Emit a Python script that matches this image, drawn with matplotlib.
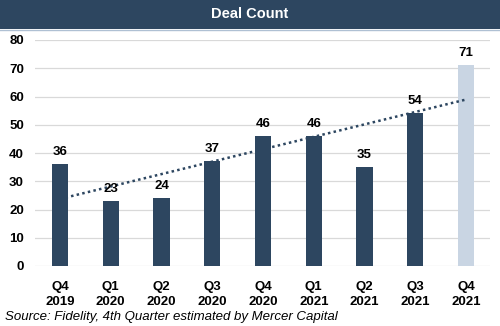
import matplotlib
matplotlib.use("Agg")
import matplotlib.pyplot as plt
import numpy as np

categories = ["Q4\n2019", "Q1\n2020", "Q2\n2020", "Q3\n2020", "Q4\n2020",
              "Q1\n2021", "Q2\n2021", "Q3\n2021", "Q4\n2021"]
deal_count = [36, 23, 24, 37, 46, 46, 35, 54, 71]
estimated = [False, False, False, False, False, False, False, False, True]
y_ticks = [0, 10, 20, 30, 40, 50, 60, 70, 80]
title = "Deal Count"
source = "Source: Fidelity, 4th Quarter estimated by Mercer Capital"

DARK = "#2D4660"
LIGHT = "#C9D5E3"

plt.rcParams['font.family'] = ['Liberation Sans', 'DejaVu Sans']

fig = plt.figure(figsize=(5.0, 3.26), dpi=100)
fig.patch.set_facecolor("white")

# title band
band = fig.add_axes([0, 1 - 29/326, 1, 29/326])
band.set_facecolor(DARK)
band.set_xticks([]); band.set_yticks([])
for s in band.spines.values():
    s.set_visible(False)
band.text(0.5, 0.5, title, color="white", fontsize=10.5, fontweight="bold",
          ha="center", va="center", transform=band.transAxes)
fig.add_artist(plt.Line2D([0, 1], [1 - 29.5/326]*2, color="#AFC0D3", lw=1.0,
                          transform=fig.transFigure))

ax = fig.add_axes([35/500, 1 - 266/326, 455/500, (266 - 40)/326])
x = np.arange(len(categories))
colors = [LIGHT if e else DARK for e in estimated]
ax.bar(x, deal_count, width=0.32, color=colors, zorder=3)

for xi, v in zip(x, deal_count):
    ax.text(xi, v + 2.3, str(v), ha="center", va="bottom", fontsize=9.5,
            fontweight="bold", color="black", zorder=5)

# linear trendline
coef = np.polyfit(x, deal_count, 1)
ax.plot([x[0], x[-1]], np.polyval(coef, [x[0], x[-1]]), color=DARK,
        lw=1.8, linestyle=(0, (1, 1.3)), zorder=4)

ax.set_ylim(0, 80)
ax.set_xlim(-0.49, 8.47)
ax.set_yticks(y_ticks)
ax.set_yticklabels([str(t) for t in y_ticks], fontsize=9.5, fontweight="bold")
ax.set_xticks(x)
ax.set_xticklabels(categories, fontsize=9.5, fontweight="bold", linespacing=1.35)
ax.tick_params(length=0)
ax.tick_params(axis="y", pad=8)
ax.tick_params(axis="x", pad=11)
ax.grid(axis="y", color="#D9D9D9", lw=0.9, zorder=0)
for s in ax.spines.values():
    s.set_visible(False)

fig.text(5/500, 1 - 317/326, source, fontsize=9.5, style="italic",
         ha="left", va="center", color="black")

fig.savefig("out.png", dpi=100)
